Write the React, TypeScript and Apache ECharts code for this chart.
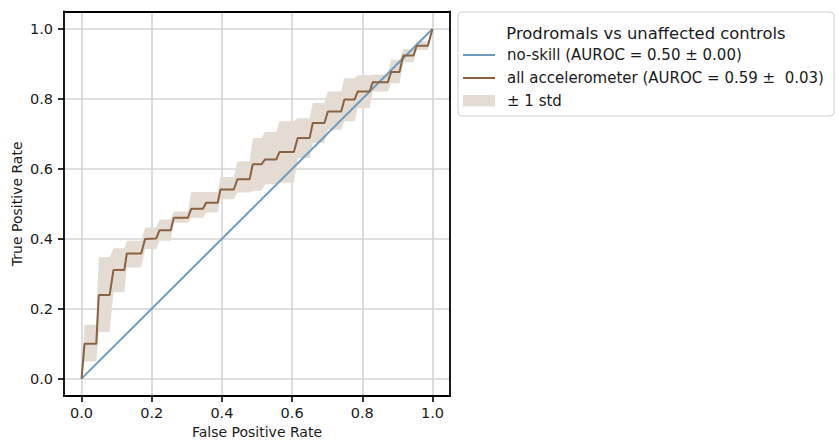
import React, { useEffect, useRef } from "react";
import * as echarts from "echarts";

const tickValues = [0, 0.2, 0.4, 0.6, 0.8, 1.0];
const legendTitle = "Prodromals vs unaffected controls";
const legendLabels = [
  "no-skill (AUROC = 0.50 ± 0.00)",
  "all accelerometer (AUROC = 0.59 ±  0.03)",
  "± 1 std",
];
const noSkillFpr = [0, 1];
const noSkillTpr = [0, 1];
const meanFpr = [
  0, 0.0085, 0.042, 0.049, 0.08, 0.091, 0.122, 0.129, 0.17, 0.181, 0.213, 0.222,
  0.254, 0.263, 0.303, 0.313, 0.346, 0.355, 0.388, 0.396, 0.434, 0.444, 0.479,
  0.488, 0.513, 0.523, 0.555, 0.564, 0.605, 0.616, 0.65, 0.659, 0.692, 0.702,
  0.74, 0.749, 0.778, 0.787, 0.821, 0.83, 0.873, 0.882, 0.906, 0.917, 0.946,
  0.955, 0.987, 1.0,
];
const meanTpr = [
  0, 0.1, 0.1, 0.239, 0.239, 0.311, 0.311, 0.358, 0.358, 0.399, 0.401, 0.424,
  0.424, 0.46, 0.46, 0.486, 0.486, 0.503, 0.503, 0.541, 0.541, 0.57, 0.57,
  0.613, 0.613, 0.627, 0.627, 0.648, 0.648, 0.688, 0.688, 0.731, 0.731, 0.764,
  0.764, 0.798, 0.798, 0.821, 0.821, 0.848, 0.848, 0.877, 0.877, 0.924, 0.924,
  0.952, 0.952, 1.0,
];
const upperTpr = [
  0, 0.154, 0.154, 0.347, 0.347, 0.373, 0.373, 0.394, 0.394, 0.432, 0.432,
  0.455, 0.455, 0.478, 0.478, 0.534, 0.534, 0.534, 0.534, 0.577, 0.577, 0.622,
  0.622, 0.688, 0.688, 0.705, 0.705, 0.736, 0.736, 0.745, 0.745, 0.788, 0.788,
  0.821, 0.821, 0.859, 0.859, 0.868, 0.868, 0.869, 0.869, 0.912, 0.912, 0.943,
  0.943, 0.965, 0.965, 1.0,
];
const lowerTpr = [
  0, 0.049, 0.049, 0.133, 0.133, 0.247, 0.247, 0.318, 0.318, 0.37, 0.37, 0.394,
  0.394, 0.446, 0.446, 0.46, 0.46, 0.475, 0.475, 0.513, 0.513, 0.532, 0.532,
  0.537, 0.537, 0.556, 0.556, 0.56, 0.56, 0.631, 0.631, 0.674, 0.674, 0.712,
  0.712, 0.736, 0.736, 0.774, 0.774, 0.821, 0.821, 0.845, 0.845, 0.905, 0.905,
  0.94, 0.94, 1.0,
];

const BLUE = "#6d9bbf";
const BROWN = "#8a6240";
const BAND = "#e4dbd2";
const FONT = "DejaVu Sans";
const TXT = "#1a1a1a";

export default function App() {
  const ref = useRef<HTMLDivElement>(null);
  useEffect(() => {
    if (!ref.current) return;
    const chart = echarts.init(ref.current, undefined, { renderer: "svg" });
    const zip = (a: number[], b: number[]) => a.map((v, i) => [v, b[i]]);
    const valueAxisCommon = {
      type: "value" as const,
      min: -0.05,
      max: 1.05,
      axisLine: { show: true, onZero: false, lineStyle: { color: "#000", width: 1.8 } },
      axisTick: {
        show: true,
        length: 6,
        lineStyle: { color: "#000", width: 1.6 },
        customValues: tickValues,
      },
      axisLabel: {
        customValues: tickValues,
        formatter: (v: number) => v.toFixed(1),
        color: TXT,
        fontFamily: FONT,
        fontSize: 14.5,
      },
      splitLine: { show: true, lineStyle: { color: "#d4d4d4", width: 1.6 } },
      nameLocation: "middle" as const,
      nameTextStyle: { color: TXT, fontFamily: FONT, fontSize: 14 },
    };
    const frameAxis = {
      type: "value" as const,
      min: -0.05,
      max: 1.05,
      axisLine: { show: true, onZero: false, lineStyle: { color: "#000", width: 1.8 } },
      axisTick: { show: false },
      axisLabel: { show: false },
      splitLine: { show: false },
    };
    const lx = 458;
    const ly = 12;
    chart.setOption({
      animation: false,
      grid: { left: 64, top: 11.5, width: 386, height: 386 },
      xAxis: [
        {
          ...valueAxisCommon,
          position: "bottom",
          name: "False Positive Rate",
          nameGap: 27,
          axisLabel: { ...valueAxisCommon.axisLabel, margin: 9 },
        },
        { ...frameAxis, position: "top" },
      ],
      yAxis: [
        {
          ...valueAxisCommon,
          position: "left",
          name: "True Positive Rate",
          nameGap: 40,
          axisLabel: { ...valueAxisCommon.axisLabel, margin: 11 },
        },
        { ...frameAxis, position: "right" },
      ],
      series: [
        {
          name: "± 1 std",
          type: "custom",
          data: [[0, 0]],
          silent: true,
          z: 1,
          renderItem: (_params: any, api: any) => {
            const pts: number[][] = [];
            for (let i = 0; i < meanFpr.length; i++) {
              pts.push(api.coord([meanFpr[i], upperTpr[i]]));
            }
            for (let i = meanFpr.length - 1; i >= 0; i--) {
              pts.push(api.coord([meanFpr[i], lowerTpr[i]]));
            }
            return {
              type: "polygon",
              shape: { points: pts },
              style: { fill: BAND, stroke: "none" },
            };
          },
        },
        {
          name: "no-skill",
          type: "line",
          data: zip(noSkillFpr, noSkillTpr),
          symbol: "none",
          lineStyle: { color: BLUE, width: 2 },
          z: 3,
        },
        {
          name: "all accelerometer",
          type: "line",
          data: zip(meanFpr, meanTpr),
          symbol: "none",
          lineStyle: { color: BROWN, width: 2 },
          z: 4,
        },
      ],
      graphic: [
        {
          type: "rect",
          shape: { x: lx, y: ly, width: 376, height: 104, r: 4 },
          style: { fill: "rgba(255,255,255,0.85)", stroke: "#cfcfcf", lineWidth: 1 },
          z: 10,
        },
        {
          type: "text",
          style: {
            text: legendTitle,
            x: 646,
            y: 33,
            align: "center",
            verticalAlign: "middle",
            font: `16.4px "${FONT}"`,
            fill: TXT,
          },
          z: 11,
        },
        {
          type: "line",
          shape: { x1: 463, y1: 55, x2: 495, y2: 55 },
          style: { stroke: BLUE, lineWidth: 2 },
          z: 11,
        },
        {
          type: "line",
          shape: { x1: 463, y1: 78, x2: 495, y2: 78 },
          style: { stroke: BROWN, lineWidth: 2 },
          z: 11,
        },
        {
          type: "rect",
          shape: { x: 463, y: 95, width: 32, height: 11.5 },
          style: { fill: BAND },
          z: 11,
        },
        ...legendLabels.map((t, i) => ({
          type: "text",
          style: {
            text: t,
            x: 507,
            y: 55 + i * 23,
            align: "left",
            verticalAlign: "middle",
            font: `15px "${FONT}"`,
            fill: TXT,
          },
          z: 11,
        })),
      ],
    });
    return () => chart.dispose();
  }, []);
  return (
    <div
      ref={ref}
      style={{ position: "absolute", left: 0, top: 0, width: 838, height: 444, background: "#fff" }}
    />
  );
}
